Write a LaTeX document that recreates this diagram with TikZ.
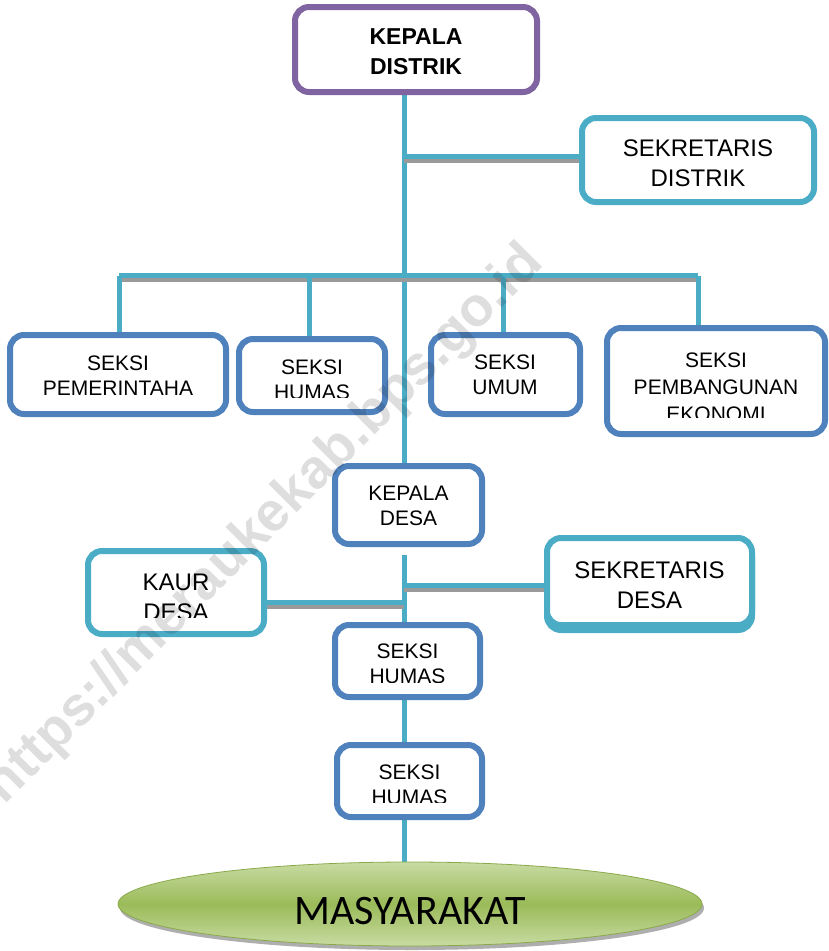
\documentclass[tikz,border=0pt]{standalone}
\usepackage{fontspec}
\setmainfont{Liberation Sans}
\newfontfamily\calfont{Carlito}
\usetikzlibrary{shapes.geometric}
\definecolor{purp}{HTML}{8064A2}
\definecolor{cyanb}{HTML}{4BACC6}
\definecolor{blueb}{HTML}{4F81BD}
\definecolor{greenb}{HTML}{9BBB59}
\definecolor{greenl}{HTML}{C8DBA3}
\definecolor{greend}{HTML}{8AAA4A}
\definecolor{shadowg}{HTML}{9A9A9A}
\pgfdeclarelayer{bglayer}
\pgfdeclarelayer{connlayer}
\pgfsetlayers{bglayer,connlayer,main}
\begin{document}
\begin{tikzpicture}[x=1pt,y=-1pt,
  box/.style={draw, line width=6pt, rounded corners=14pt, fill=white, inner sep=0pt},
  bluebox/.style={box, draw=blueb},
  cyanbox/.style={box, draw=cyanb},
  purpbox/.style={box, draw=purp},
  txt/.style={align=center, inner sep=0pt, text=black},
  smalltxt/.style={txt, font=\fontsize{21}{25}\selectfont},
  bigtxt/.style={txt, font=\fontsize{24}{30}\selectfont},
  conn/.style={draw=cyanb, line width=5pt,
    preaction={draw=shadowg, line width=4pt, transform canvas={yshift=-4.5pt}}},
]
\useasboundingbox (0,0) rectangle (829,951);
\begin{pgfonlayer}{bglayer}
  \fill[white] (0,0) rectangle (829,951);
\end{pgfonlayer}

% ---------- boxes ----------
\node[purpbox, minimum width=242pt, minimum height=85pt] (kdis) at (416,49.5) {};
\node[cyanbox, minimum width=232pt, minimum height=84pt] (sdis) at (698,160) {};
\node[bluebox, minimum width=216pt, minimum height=79pt] (pem) at (118,374.5) {};
\node[bluebox, minimum width=146pt, minimum height=73pt] (hum1) at (312,375.5) {};
\node[bluebox, minimum width=149pt, minimum height=79pt] (umum) at (505.5,374.5) {};
\node[bluebox, minimum width=218pt, minimum height=106pt] (pemb) at (716,381) {};
\node[bluebox, minimum width=147pt, minimum height=78pt] (kdes) at (408.5,505) {};
\node[cyanbox, minimum width=176pt, minimum height=83pt] (kaur) at (176,592.5) {};
\node[cyanbox, minimum width=205pt, minimum height=87pt] (sdesshadow) at (649.5,586.5) {};
\node[cyanbox, minimum width=205pt, minimum height=87pt] (sdes) at (649.5,581.5) {};
\node[bluebox, minimum width=145pt, minimum height=72pt] (hum2) at (407.5,661) {};
\node[bluebox, minimum width=145pt, minimum height=72pt] (hum3) at (409.5,781) {};

\node[ellipse, fill=shadowg!80, minimum width=584pt, minimum height=84pt, inner sep=0pt] (masyshadow) at (412,908) {};
\node[ellipse, draw=greend, line width=0.8pt, top color=greenl, bottom color=greenl, middle color=greenb,
      minimum width=584pt, minimum height=84pt, inner sep=0pt] (masy) at (410,904) {};

% ---------- texts ----------
\node[txt, font=\bfseries\fontsize{23}{30}\selectfont] (kdist) at (416,52) {KEPALA\\DISTRIK};
\node[bigtxt] (sdist) at (698,163) {SEKRETARIS\\DISTRIK};
\node[smalltxt] (pemt) at (118,375.5) {SEKSI\\PEMERINTAHA};
\begin{scope}
  \clip (236,336) rectangle (388,397);
  \node[smalltxt] (hum1t) at (312,379.5) {SEKSI\\HUMAS};
\end{scope}
\node[smalltxt] (umumt) at (505,374.5) {SEKSI\\UMUM};
\begin{scope}
  \clip (604,325) rectangle (828,417);
  \node[txt, font=\fontsize{21}{27}\selectfont] (pembt) at (716,387) {SEKSI\\PEMBANGUNAN\\EKONOMI};
\end{scope}
\node[smalltxt] (kdest) at (408.5,505.5) {KEPALA\\DESA};
\begin{scope}
  \clip (85,548) rectangle (267,617);
  \node[bigtxt] (kaurt) at (176,597) {KAUR\\DESA};
\end{scope}
\node[bigtxt] (sdest) at (649.5,585) {SEKRETARIS\\DESA};
\begin{scope}
  \clip (332,622) rectangle (483,682);
  \node[smalltxt] (hum2t) at (407.5,664) {SEKSI\\HUMAS};
\end{scope}
\begin{scope}
  \clip (334,742) rectangle (485,802);
  \node[smalltxt] (hum3t) at (409.5,784.5) {SEKSI\\HUMAS};
\end{scope}
\node[txt, font=\calfont\fontsize{42}{46}\selectfont] (masyt) at (410,911) {MASYARAKAT};

% ---------- connectors ----------
\coordinate (tx) at (404,0);
\coordinate (j1) at (404,156.5);
\coordinate (barL) at (119,275.5);
\coordinate (barR) at (698,275.5);
\coordinate (d2) at (309.5,275.5);
\coordinate (d3) at (503,275.5);
\coordinate (t2) at (404,555);
\coordinate (j3) at (404,585.5);
\coordinate (j4) at (404,602.5);
\begin{pgfonlayer}{connlayer}
  \draw[conn] (kdis.south -| tx) -- (kdes.north -| tx);
  \draw[conn] (j1) -- (sdis.west |- j1);
  \draw[conn] (barL) -- (barR);
  \draw[conn] (barL) -- (barL |- pem.north);
  \draw[conn] (d2) -- (d2 |- hum1.north);
  \draw[conn] (d3) -- (d3 |- umum.north);
  \draw[conn] (barR) -- (barR |- pemb.north);
  \draw[conn] (t2) -- (hum2.north -| tx);
  \draw[conn] (j3) -- (sdes.west |- j3);
  \draw[conn] (kaur.east |- j4) -- (j4);
  \draw[conn] (hum2.south -| tx) -- (hum3.north -| tx);
  \draw[conn] (hum3.south -| tx) -- (masy.north -| tx);
\end{pgfonlayer}

% ---------- watermark ----------
\node[font=\bfseries\fontsize{55}{60}\selectfont, text=black, text opacity=0.13, rotate=45, inner sep=0pt]
  (wm) at (265,525) {https://meraukekab.bps.go.id};
\end{tikzpicture}
\end{document}
